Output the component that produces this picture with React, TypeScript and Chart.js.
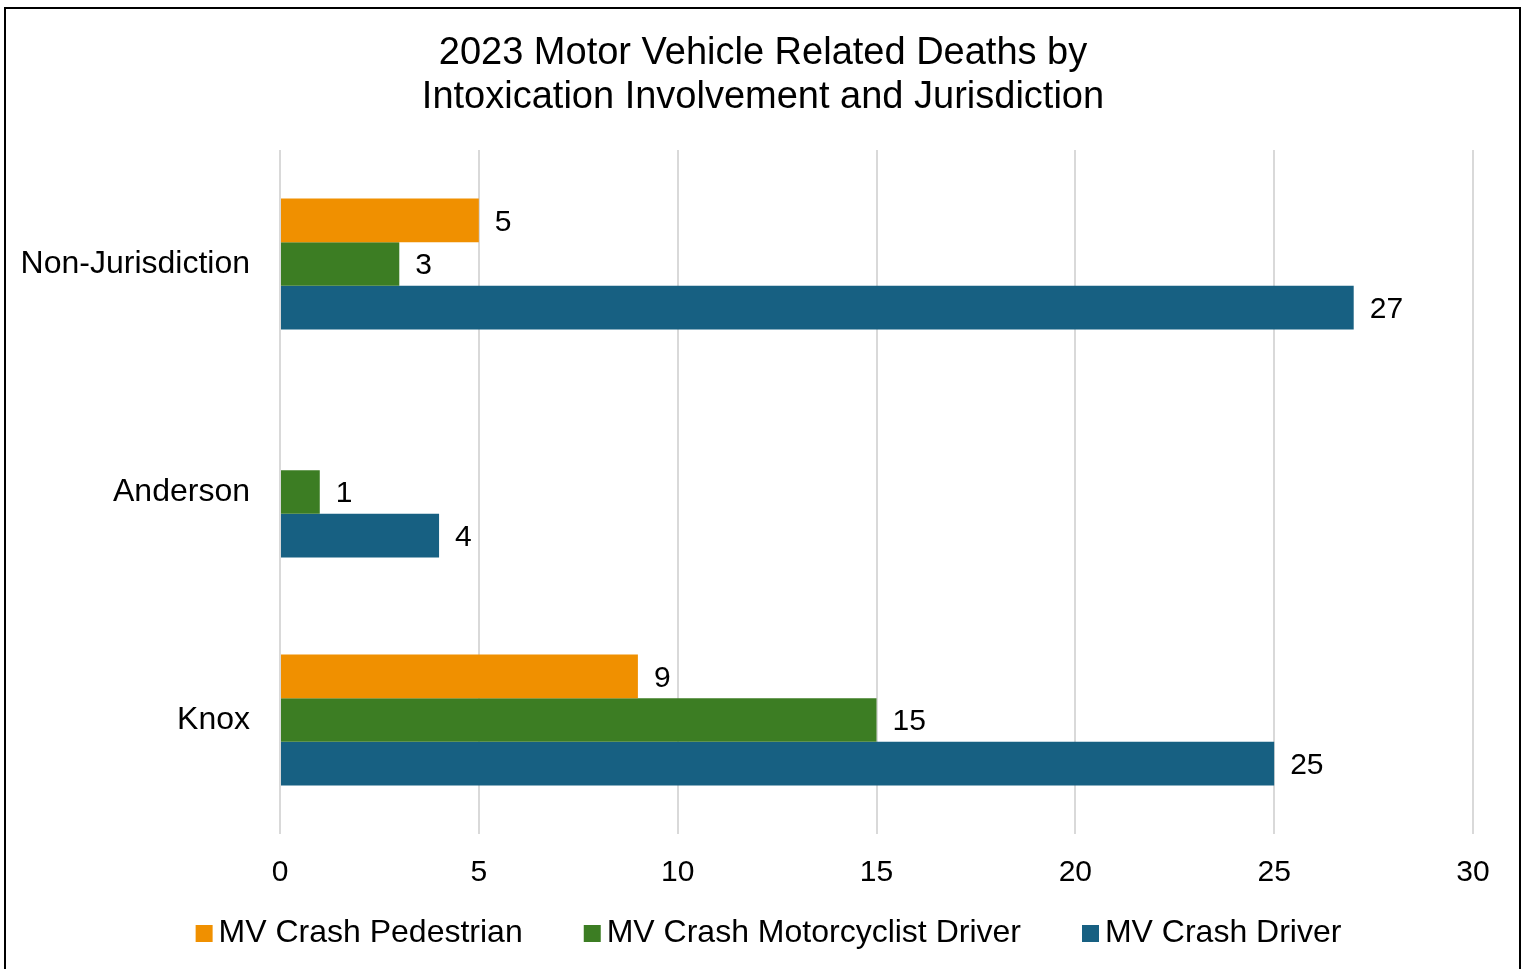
import React, { useEffect, useRef } from "react";
import { Chart, registerables } from "chart.js";

Chart.register(...registerables);

const categories = ["Non-Jurisdiction", "Anderson", "Knox"];
const seriesNames = ["MV Crash Pedestrian", "MV Crash Motorcyclist Driver", "MV Crash Driver"];
const pedestrian: (number | null)[] = [5, null, 9];
const motorcyclist: (number | null)[] = [3, 1, 15];
const driver: (number | null)[] = [27, 4, 25];
const seriesColors = ["#F09000", "#3C7D23", "#176082"];
const titleLines = ["2023 Motor Vehicle Related Deaths by", "Intoxication Involvement and Jurisdiction"];
const xMin = 0;
const xMax = 30;
const xStep = 5;

const FONT = "'Liberation Sans', Arial, sans-serif";

// legend marker images: transparent strip with the coloured square near its right end
function makeMarker(color: string): HTMLCanvasElement {
  const c = document.createElement("canvas");
  c.width = 100;
  c.height = 17;
  const g = c.getContext("2d")!;
  g.fillStyle = color;
  g.fillRect(72, 0, 17, 17);
  return c;
}

const valueLabels = {
  id: "valueLabels",
  afterDatasetsDraw(chart: any) {
    const ctx = chart.ctx;
    ctx.save();
    ctx.font = `30px ${FONT}`;
    ctx.fillStyle = "#000";
    ctx.textAlign = "left";
    ctx.textBaseline = "middle";
    chart.data.datasets.forEach((ds: any, di: number) => {
      const meta = chart.getDatasetMeta(di);
      meta.data.forEach((el: any, i: number) => {
        const v = ds.data[i];
        if (v === null || v === undefined) return;
        ctx.fillText(String(v), el.x + 16, el.y + 2);
      });
    });
    ctx.restore();
  },
};

const legendShift = {
  id: "legendShift",
  afterLayout(chart: any) {
    if (chart.legend) {
      chart.legend.left -= 20;
      chart.legend.right -= 20;
    }
  },
};

export default function App() {
  const ref = useRef<HTMLCanvasElement>(null);
  useEffect(() => {
    if (!ref.current) return;
    const markers = seriesColors.map(makeMarker);
    const chart = new Chart(ref.current, {
      type: "bar",
      data: {
        labels: categories,
        datasets: [pedestrian, motorcyclist, driver].map((d, i) => ({
          label: seriesNames[i],
          data: d,
          backgroundColor: seriesColors[i],
          borderWidth: 0,
          categoryPercentage: 0.575,
          barPercentage: 1,
          yAxisID: "y",
          xAxisID: "x",
        })),
      },
      options: {
        indexAxis: "y",
        animation: false,
        responsive: false,
        layout: { padding: { left: 10, right: 0, top: 0, bottom: 10 } },
        plugins: {
          title: {
            display: true,
            text: titleLines,
            color: "#000",
            font: { family: FONT, size: 38, weight: "normal", lineHeight: 44 / 38 },
            padding: { top: 24, bottom: 30 },
          },
          legend: {
            position: "bottom",
            labels: {
              usePointStyle: true,
              pointStyleWidth: 58,
              boxHeight: 17,
              padding: 10,
              color: "#000",
              font: { family: FONT, size: 32 },
              generateLabels: (c: any) => {
                const items = (Chart as any).defaults.plugins.legend.labels.generateLabels(c);
                return items.map((it: any, i: number) => ({ ...it, pointStyle: markers[i], lineWidth: 0 }));
              },
            },
          },
          tooltip: { enabled: false },
        },
        scales: {
          x: {
            min: xMin,
            max: xMax,
            ticks: { stepSize: xStep, color: "#000", padding: 0, font: { family: FONT, size: 30 } },
            grid: { color: "#D9D9D9", lineWidth: 2, drawTicks: true, tickLength: 21, tickColor: "rgba(0,0,0,0)" },
            border: { display: false },
            afterFit: (s: any) => {
              s.height = 73;
            },
          },
          y: {
            ticks: { color: "#000", padding: 30, font: { family: FONT, size: 32 } },
            grid: { display: false, drawTicks: false },
            border: { display: false },
            afterFit: (s: any) => {
              s.width = 264;
            },
          },
          yR: {
            type: "category",
            axis: "y",
            position: "right",
            display: true,
            ticks: { display: false },
            grid: { display: false, drawTicks: false },
            border: { display: false },
            afterFit: (s: any) => {
              s.width = 37;
            },
          },
        },
      },
      plugins: [valueLabels, legendShift],
    } as any);
    return () => chart.destroy();
  }, []);
  return (
    <div>
      <div
        style={{
          position: "fixed",
          left: 4,
          top: 7,
          width: 1517,
          height: 1000,
          border: "2px solid #000",
          boxSizing: "border-box",
          background: "#fff",
        }}
      />
      <canvas
        ref={ref}
        width={1504}
        height={961}
        style={{ position: "fixed", left: 6, top: 8, width: 1504, height: 961, display: "block" }}
      />
    </div>
  );
}
